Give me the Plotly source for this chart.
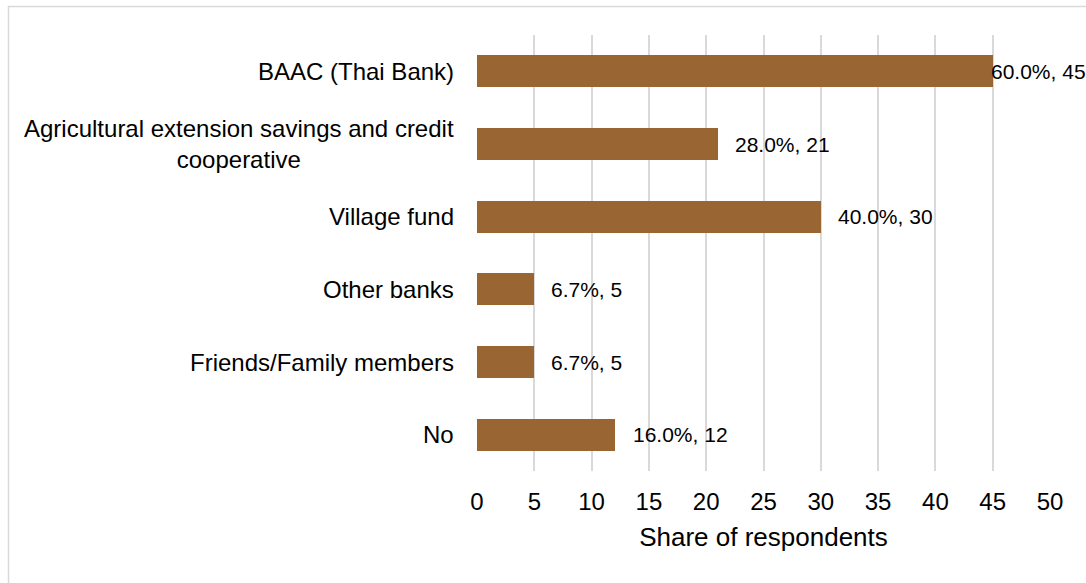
import plotly.graph_objects as go

# Sources of credit used by respondents (n = 75)
categories = [
    "BAAC (Thai Bank)",
    "Agricultural extension savings and credit<br>cooperative",
    "Village fund",
    "Other banks",
    "Friends/Family members",
    "No",
]
counts = [45, 21, 30, 5, 5, 12]
shares = [60.0, 28.0, 40.0, 6.7, 6.7, 16.0]
x_ticks = [0, 5, 10, 15, 20, 25, 30, 35, 40, 45, 50]

BAR_COLOR = "#996633"
GRID_COLOR = "#d9d9d9"
FONT = "Arial, Liberation Sans, sans-serif"

W, H = 1086, 583
M = dict(l=477, r=36, t=35, b=112)
plot_w = W - M["l"] - M["r"]
plot_h = H - M["t"] - M["b"]


def px_to_paper_x(px):
    return (px - M["l"]) / plot_w


def px_to_paper_y(py):
    return 1 - (py - M["t"]) / plot_h


keys = [f"c{i}" for i in range(len(categories))]

fig = go.Figure(
    go.Bar(
        x=counts,
        y=keys,
        orientation="h",
        width=0.44,
        marker=dict(color=BAR_COLOR, line=dict(width=0)),
        hoverinfo="skip",
    )
)

annotations = []
# category labels, right aligned against the axis, wrapped lines centred
for k, name in zip(keys, categories):
    annotations.append(
        dict(
            x=px_to_paper_x(456), xref="paper", y=k, yref="y",
            text=name, showarrow=False, xanchor="right", yanchor="middle",
            align="center", font=dict(family=FONT, size=24, color="#000000"),
        )
    )

# value labels at the end of each bar
label_shift = [-4, 15, 15, 15, 15, 16]
for k, c, s, sh in zip(keys, counts, shares, label_shift):
    annotations.append(
        dict(
            x=c, xref="x", y=k, yref="y",
            text=f"{s:.1f}%, {c}", showarrow=False,
            xanchor="left", yanchor="middle", xshift=sh,
            font=dict(family=FONT, size=21, color="#000000"),
        )
    )

# outer chart frame
frame = dict(color=GRID_COLOR, width=1.5)
shapes = [
    dict(type="line", xref="paper", yref="paper",
         x0=px_to_paper_x(8), x1=px_to_paper_x(1100),
         y0=px_to_paper_y(6.5), y1=px_to_paper_y(6.5), line=frame),
    dict(type="line", xref="paper", yref="paper",
         x0=px_to_paper_x(8.5), x1=px_to_paper_x(8.5),
         y0=px_to_paper_y(6), y1=px_to_paper_y(600), line=frame),
]

fig.update_layout(
    width=W, height=H,
    margin=M,
    paper_bgcolor="white",
    plot_bgcolor="white",
    showlegend=False,
    bargap=0,
    font=dict(family=FONT, color="#000000"),
    annotations=annotations,
    shapes=shapes,
    xaxis=dict(
        range=[0, 50],
        tickvals=x_ticks,
        ticktext=[str(t) for t in x_ticks],
        showgrid=True, gridcolor=GRID_COLOR, gridwidth=2,
        zeroline=False, showline=False,
        ticks="outside", ticklen=9, tickcolor="rgba(0,0,0,0)",
        tickfont=dict(family=FONT, size=24, color="#000000"),
        title=dict(text="Share of respondents", standoff=14,
                   font=dict(family=FONT, size=26, color="#000000")),
        fixedrange=True,
    ),
    yaxis=dict(
        categoryorder="array", categoryarray=keys,
        autorange="reversed",
        showticklabels=False, showgrid=False, zeroline=False,
        showline=False, ticks="",
        fixedrange=True,
    ),
)

fig.write_html("out.html", config=dict(displayModeBar=False))
